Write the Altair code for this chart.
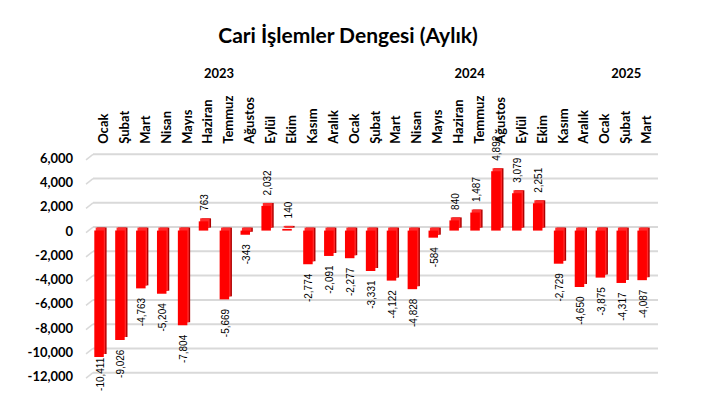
import math
import altair as alt
import pandas as pd

# ---------------- data ----------------
months = ["Ocak", "Şubat", "Mart", "Nisan", "Mayıs", "Haziran", "Temmuz",
          "Ağustos", "Eylül", "Ekim", "Kasım", "Aralık"]
years = [2023] * 12 + [2024] * 12 + [2025] * 3
month_names = months + months + months[:3]
values = [-10411, -9026, -4763, -5204, -7804, 763, -5669, -343, 2032, 140,
          -2774, -2091, -2277, -3331, -4122, -4828, -584, 840, 1487, 4892,
          3079, 2251, -2729, -4650, -3875, -4317, -4087]
y_ticks = [-12000, -10000, -8000, -6000, -4000, -2000, 0, 2000, 4000, 6000]
year_labels = [2023, 2024, 2025]
title_text = "Cari İşlemler Dengesi (Aylık)"

keys = [f"{m} {y}" for m, y in zip(month_names, years)]
df = pd.DataFrame({"key": keys, "v": values, "lab": [f"{v:,}" for v in values]})
grid_df = pd.DataFrame({"v": y_ticks})

# ---------------- layout ----------------
W, H = 564, 218.4
PAD_L, PAD_T = 80.6, 146.3
PAD_R = 694 - PAD_L - W
PAD_B = 20
step = W / len(keys)
LABEL_FLOOR = -9700  # labels are kept inside the chart area (like Excel)
DEPTH = 3.5          # 3D depth offset of the front faces

xenc = alt.X("key:N", sort=keys,
             scale=alt.Scale(paddingInner=0.1, paddingOuter=0.05),
             axis=alt.Axis(orient="top", labelAngle=-90,
                           labelExpr="split(datum.value, ' ')[0]",
                           labelFont="Lato", labelFontWeight="bold",
                           labelFontSize=13, labelColor="black",
                           labelPadding=11, labelOffset=5,
                           ticks=False, domain=False, grid=False, title=None))
yscale = alt.Scale(domain=[-12000, 6000], nice=False, zero=False)
y_axis = alt.Axis(values=y_ticks, orient="left",
                  labelExpr="replace(format(datum.value, ','), '−', '-')",
                  labelFont="Lato", labelFontWeight="bold",
                  labelFontSize=13, labelColor="black",
                  labelPadding=16, labelOffset=4,
                  ticks=False, domain=False, grid=False, title=None)
yenc = alt.Y("v:Q", scale=yscale, axis=y_axis)

# gridlines (3D wall look)
grid_h = alt.Chart(grid_df).mark_rule(color="#d9d9d9", strokeWidth=2).encode(
    y=yenc, x=alt.value(4.4), x2=alt.value(W + 5.4))
grid_d = alt.Chart(grid_df).mark_rule(color="#d9d9d9", strokeWidth=1.5,
                                      yOffset=5.5, y2Offset=0).encode(
    y=yenc, y2="v:Q", x=alt.value(-2.6), x2=alt.value(4.4))

base = alt.Chart(df)
bar_side = base.mark_bar(color="#b00000", size=9.5, xOffset=2.8,
                         yOffset=DEPTH - 3, y2Offset=DEPTH - 3).encode(x=xenc, y=yenc)
bar_top = base.mark_bar(color="#ff2a2a", size=9.5, xOffset=1.4,
                        yOffset=DEPTH - 3, y2Offset=DEPTH - 3).encode(x=xenc, y=yenc)
bar_front = base.mark_bar(color="#ff0000", size=9.5,
                          yOffset=DEPTH, y2Offset=DEPTH).encode(x=xenc, y=yenc)

lab_pos = base.transform_filter("datum.v > 0").mark_text(
    angle=270, align="left", baseline="middle", dx=7, dy=1.5,
    font="Liberation Sans", fontSize=10, color="black").encode(
    x=xenc, y=yenc, text="lab:N")
lab_neg = base.transform_filter("datum.v < 0").transform_calculate(
    ly=f"max(datum.v, {LABEL_FLOOR})").mark_text(
    angle=270, align="right", baseline="middle", dx=-13, dy=1.5,
    font="Liberation Sans", fontSize=10, color="black").encode(
    x=xenc, y=alt.Y("ly:Q", scale=yscale, axis=y_axis), text="lab:N")

layers = [grid_h, grid_d, bar_side, bar_top, bar_front, lab_pos, lab_neg]

for yr in year_labels:
    idx = [i for i, y in enumerate(years) if y == yr]
    mid = (idx[0] + idx[-1]) / 2
    anchor = int(math.ceil(mid))
    off = (mid - anchor) * step + 5
    ydf = pd.DataFrame({"key": [keys[anchor]], "yr": [str(yr)]})
    layers.append(alt.Chart(ydf).mark_text(
        font="Lato", fontWeight="bold", fontSize=13, color="black",
        baseline="middle", align="center", xOffset=off).encode(
        x=xenc, y=alt.value(-80), text="yr:N"))

title_df = pd.DataFrame({"t": [title_text]})
layers.append(alt.Chart(title_df).mark_text(
    font="Lato", fontWeight="bold", fontSize=21, color="black",
    align="center", baseline="alphabetic").encode(
    x=alt.value(348 - 8 - PAD_L), y=alt.value(42.7 - 8 - PAD_T), text="t:N"))

chart = alt.layer(*layers).properties(
    width=W, height=H,
    autosize=alt.AutoSizeParams(type="none"),
    padding={"left": PAD_L, "top": PAD_T, "right": PAD_R, "bottom": PAD_B},
).configure_view(stroke=None)

chart.save("out.html", embed_options={"renderer": "svg", "actions": False})
